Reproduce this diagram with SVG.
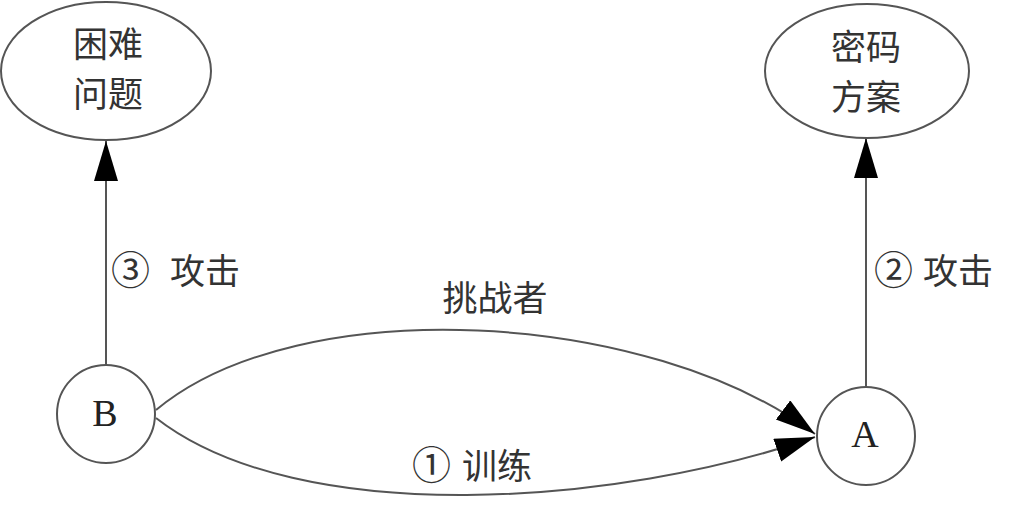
<svg xmlns="http://www.w3.org/2000/svg" width="1024" height="512" viewBox="0 0 1024 512">
<style>
.shape{fill:#fff;stroke:#555;stroke-width:2}
.edge{fill:none;stroke:#555;stroke-width:2}
.cjk{font-family:"Noto Sans CJK SC","Noto Sans",sans-serif;font-size:35px;fill:#333}
.num{font-family:"Noto Sans CJK SC","Noto Sans",sans-serif;font-size:39px;fill:#333}
.lat{font-family:"Liberation Serif","DejaVu Serif",serif;font-size:38px;fill:#222}
</style>
<defs>
<marker id="arr" markerUnits="userSpaceOnUse" markerWidth="42" markerHeight="26" refX="40" refY="12" orient="auto" viewBox="0 0 42 26">
<path d="M0,0 L40,12 L0,24 z" fill="#000"/>
</marker>
</defs>
<rect width="1024" height="512" fill="#fff"/>
<g id="connectors">
<line class="edge" x1="106" y1="365" x2="106" y2="141" marker-end="url(#arr)"/>
<line class="edge" x1="866" y1="387" x2="866" y2="138" marker-end="url(#arr)"/>
<path class="edge" d="M156,410 C300,290 650,310 815,434" marker-end="url(#arr)"/>
<path class="edge" d="M156,418 C300,530 620,505 815,437" marker-end="url(#arr)"/>
<text class="num" x="111" y="284">③</text>
<text class="cjk" x="170" y="284">攻击</text>
<text class="num" x="874" y="284">②</text>
<text class="cjk" x="923" y="284">攻击</text>
<text class="cjk" x="495" y="311" text-anchor="middle">挑战者</text>
<text class="num" x="412" y="479">①</text>
<text class="cjk" x="462" y="479">训练</text>
</g>
<g id="node-kunnan">
<ellipse class="shape" cx="106" cy="71" rx="105" ry="69"/>
<text class="cjk" x="108" y="57" text-anchor="middle">困难</text>
<text class="cjk" x="108" y="107" text-anchor="middle">问题</text>
</g>
<g id="node-mima">
<ellipse class="shape" cx="867" cy="71" rx="102" ry="67"/>
<text class="cjk" x="866" y="60" text-anchor="middle">密码</text>
<text class="cjk" x="866" y="110" text-anchor="middle">方案</text>
</g>
<g id="node-B">
<circle class="shape" cx="106" cy="414" r="49"/>
<text class="lat" x="105" y="426" text-anchor="middle">B</text>
</g>
<g id="node-A">
<circle class="shape" cx="866" cy="436" r="49"/>
<text class="lat" x="865" y="447" text-anchor="middle">A</text>
</g>
</svg>
